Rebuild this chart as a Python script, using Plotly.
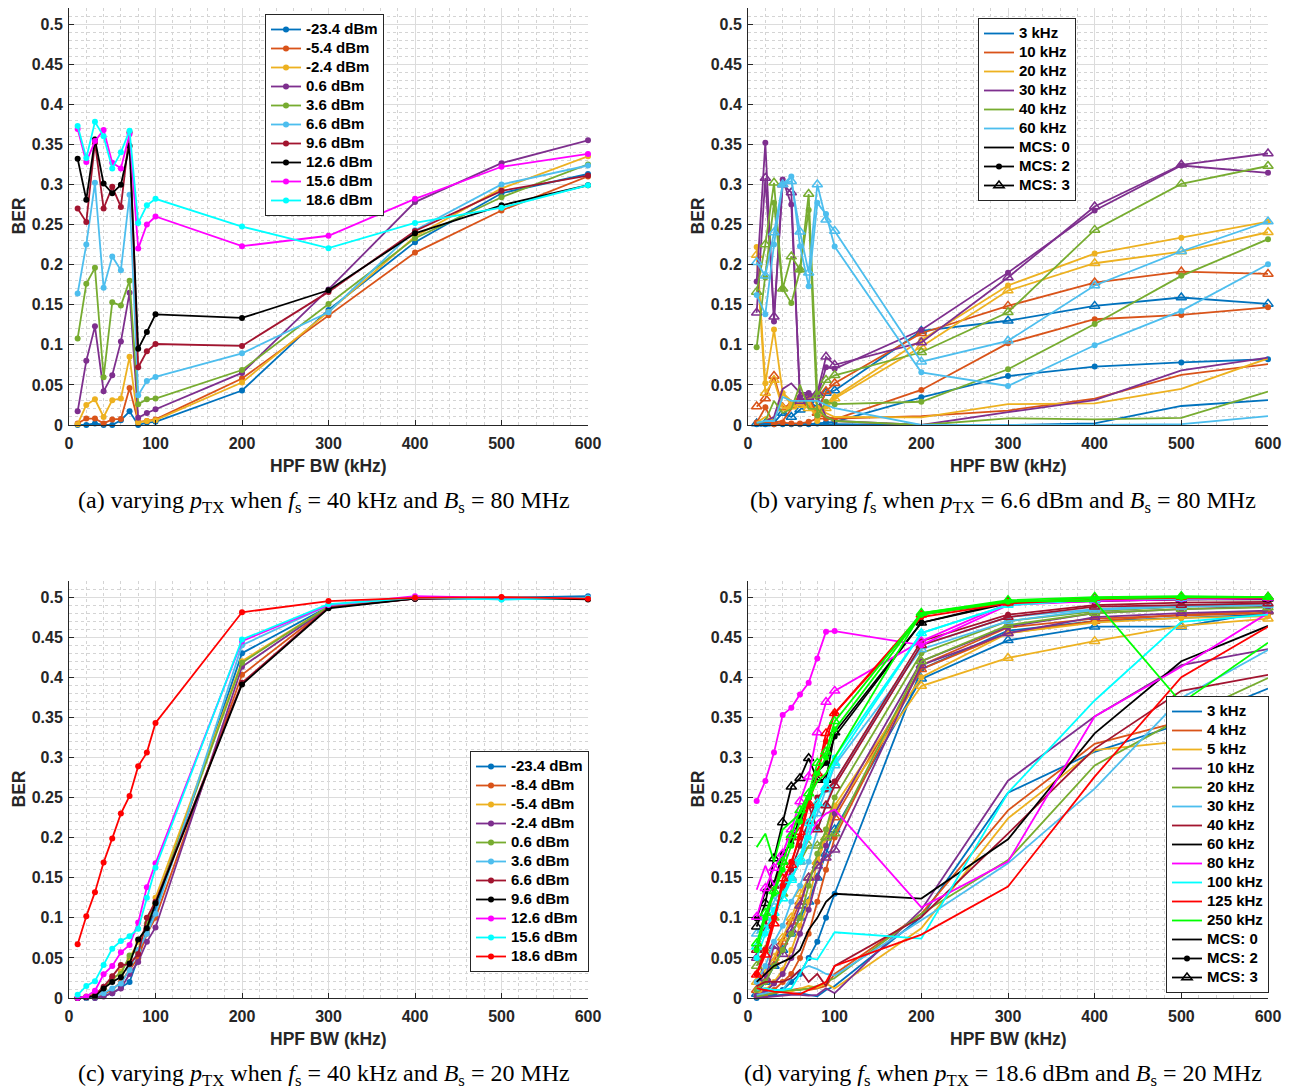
import plotly.graph_objects as go

# ---------------- data ----------------
X = [10, 20, 30, 40, 50, 60, 70, 80, 90, 100, 200, 300, 400, 500, 600]
X_TICKS = [0, 100, 200, 300, 400, 500, 600]
Y_TICKS = [0, 0.05, 0.1, 0.15, 0.2, 0.25, 0.3, 0.35, 0.4, 0.45, 0.5]
Y_TICK_TEXT = ["0", "0.05", "0.1", "0.15", "0.2", "0.25", "0.3", "0.35", "0.4", "0.45", "0.5"]

# panel (a): varying p_TX, fs=40 kHz, Bs=80 MHz
A_LABELS = ["-23.4 dBm", "-5.4 dBm", "-2.4 dBm", "0.6 dBm", "3.6 dBm", "6.6 dBm",
            "9.6 dBm", "12.6 dBm", "15.6 dBm", "18.6 dBm"]
A_M23_4 = [0.0, 0.0, 0.002, 0.0, 0.0, 0.006, 0.017, 0.0, 0.003, 0.004, 0.043, 0.1435, 0.228, 0.289, 0.313]
A_M5_4 = [0.002, 0.008, 0.008, 0.002, 0.007, 0.0075, 0.046, 0.004, 0.005, 0.007, 0.058, 0.137, 0.215, 0.2675, 0.310]
A_M2_4 = [0.001, 0.025, 0.032, 0.010, 0.031, 0.033, 0.085, 0.003, 0.005, 0.006, 0.053, 0.141, 0.235, 0.295, 0.335]
A_P0_6 = [0.017, 0.080, 0.123, 0.042, 0.062, 0.104, 0.165, 0.009, 0.015, 0.0195, 0.065, 0.169, 0.278, 0.3265, 0.355]
A_P3_6 = [0.108, 0.176, 0.196, 0.0595, 0.153, 0.149, 0.180, 0.026, 0.032, 0.033, 0.0686, 0.151, 0.233, 0.284, 0.325]
A_P6_6 = [0.164, 0.225, 0.302, 0.171, 0.210, 0.193, 0.287, 0.037, 0.055, 0.060, 0.0894, 0.1406, 0.243, 0.300, 0.3236]
A_P9_6 = [0.270, 0.253, 0.352, 0.270, 0.297, 0.272, 0.365, 0.072, 0.092, 0.101, 0.0986, 0.166, 0.242, 0.292, 0.311]
A_P12_6 = [0.332, 0.281, 0.356, 0.301, 0.289, 0.2995, 0.348, 0.095, 0.116, 0.138, 0.1335, 0.168, 0.239, 0.274, 0.299]
A_P15_6 = [0.369, 0.328, 0.354, 0.368, 0.327, 0.320, 0.363, 0.220, 0.250, 0.260, 0.223, 0.236, 0.282, 0.322, 0.338]
A_P18_6 = [0.373, 0.333, 0.378, 0.360, 0.320, 0.340, 0.367, 0.252, 0.274, 0.282, 0.2475, 0.2205, 0.252, 0.271, 0.299]
A_SERIES = [A_M23_4, A_M5_4, A_M2_4, A_P0_6, A_P3_6, A_P6_6, A_P9_6, A_P12_6, A_P15_6, A_P18_6]

# panel (b): varying fs, p_TX=6.6 dBm, Bs=80 MHz ; per frequency: MCS0, MCS2, MCS3
B_FREQS = ["3 kHz", "10 kHz", "20 kHz", "30 kHz", "40 kHz", "60 kHz"]
B_MCS0 = [
    [0.001, 0.001, 0.001, 0.001, 0.001, 0.001, 0.001, 0.001, 0.001, 0.001, 0.0, 0.0, 0.002, 0.0237, 0.031],
    [0.002, 0.004, 0.003, 0.005, 0.020, 0.040, 0.035, 0.012, 0.010, 0.008, 0.011, 0.018, 0.033, 0.0624, 0.076],
    [0.003, 0.010, 0.005, 0.040, 0.030, 0.025, 0.040, 0.025, 0.015, 0.010, 0.0096, 0.026, 0.027, 0.045, 0.083],
    [0.002, 0.005, 0.010, 0.045, 0.052, 0.040, 0.040, 0.035, 0.010, 0.005, 0.0, 0.016, 0.031, 0.068, 0.084],
    [0.002, 0.005, 0.030, 0.015, 0.020, 0.050, 0.020, 0.020, 0.010, 0.005, 0.0, 0.0083, 0.007, 0.009, 0.0416],
    [0.003, 0.005, 0.005, 0.035, 0.030, 0.030, 0.030, 0.030, 0.025, 0.021, 0.0, 0.0, 0.0, 0.001, 0.011],
]
B_MCS2 = [
    [0.001, 0.001, 0.001, 0.001, 0.001, 0.001, 0.001, 0.002, 0.003, 0.004, 0.0345, 0.061, 0.0728, 0.078, 0.082],
    [0.003, 0.022, 0.001, 0.003, 0.002, 0.002, 0.004, 0.008, 0.008, 0.007, 0.0437, 0.102, 0.1319, 0.1373, 0.1468],
    [0.222, 0.052, 0.119, 0.040, 0.025, 0.031, 0.031, 0.005, 0.023, 0.035, 0.106, 0.174, 0.2138, 0.2334, 0.2537],
    [0.179, 0.352, 0.129, 0.306, 0.275, 0.035, 0.040, 0.035, 0.072, 0.070, 0.1185, 0.190, 0.2675, 0.3236, 0.3145],
    [0.097, 0.184, 0.277, 0.170, 0.152, 0.193, 0.268, 0.012, 0.029, 0.026, 0.029, 0.0695, 0.126, 0.186, 0.2317],
    [0.162, 0.138, 0.225, 0.300, 0.310, 0.223, 0.173, 0.277, 0.263, 0.2225, 0.0657, 0.0487, 0.0994, 0.1423, 0.2005],
]
B_MCS3 = [
    [0.002, 0.002, 0.003, 0.015, 0.010, 0.019, 0.031, 0.021, 0.040, 0.043, 0.1173, 0.130, 0.1485, 0.159, 0.151],
    [0.023, 0.033, 0.061, 0.022, 0.025, 0.027, 0.025, 0.015, 0.042, 0.052, 0.1144, 0.1485, 0.1776, 0.1913, 0.1884],
    [0.212, 0.040, 0.056, 0.021, 0.023, 0.025, 0.021, 0.019, 0.021, 0.033, 0.0977, 0.1676, 0.2017, 0.2163, 0.2404],
    [0.140, 0.308, 0.135, 0.300, 0.290, 0.030, 0.035, 0.040, 0.085, 0.075, 0.103, 0.184, 0.2725, 0.3245, 0.3386],
    [0.166, 0.225, 0.302, 0.170, 0.210, 0.194, 0.288, 0.037, 0.056, 0.062, 0.0907, 0.1406, 0.2433, 0.3007, 0.323],
    [0.203, 0.186, 0.240, 0.300, 0.304, 0.241, 0.190, 0.300, 0.256, 0.242, 0.079, 0.105, 0.174, 0.2167, 0.2537],
]

# panel (c): varying p_TX, fs=40 kHz, Bs=20 MHz
C_LABELS = ["-23.4 dBm", "-8.4 dBm", "-5.4 dBm", "-2.4 dBm", "0.6 dBm", "3.6 dBm",
            "6.6 dBm", "9.6 dBm", "12.6 dBm", "15.6 dBm", "18.6 dBm"]
C_SERIES = [
    [0.0, 0.0, 0.0, 0.003, 0.006, 0.013, 0.020, 0.050, 0.085, 0.110, 0.430, 0.488, 0.498, 0.499, 0.501],
    [0.0, 0.0, 0.002, 0.005, 0.010, 0.020, 0.035, 0.050, 0.080, 0.100, 0.403, 0.487, 0.498, 0.498, 0.498],
    [0.0, 0.002, 0.005, 0.012, 0.022, 0.033, 0.050, 0.070, 0.090, 0.125, 0.420, 0.488, 0.499, 0.499, 0.498],
    [0.0, 0.0, 0.0, 0.002, 0.006, 0.012, 0.030, 0.045, 0.070, 0.088, 0.413, 0.487, 0.498, 0.498, 0.498],
    [0.0, 0.001, 0.004, 0.012, 0.025, 0.030, 0.053, 0.060, 0.093, 0.118, 0.418, 0.488, 0.499, 0.499, 0.498],
    [0.0, 0.0, 0.002, 0.006, 0.012, 0.018, 0.035, 0.060, 0.080, 0.105, 0.440, 0.490, 0.499, 0.497, 0.499],
    [0.0, 0.001, 0.004, 0.014, 0.027, 0.041, 0.042, 0.055, 0.100, 0.120, 0.393, 0.487, 0.498, 0.499, 0.498],
    [0.0, 0.001, 0.002, 0.012, 0.020, 0.026, 0.043, 0.073, 0.087, 0.118, 0.391, 0.486, 0.498, 0.499, 0.497],
    [0.0, 0.002, 0.009, 0.0295, 0.040, 0.057, 0.066, 0.094, 0.138, 0.168, 0.445, 0.490, 0.501, 0.499, 0.499],
    [0.004, 0.015, 0.021, 0.041, 0.0615, 0.071, 0.077, 0.0865, 0.125, 0.1625, 0.447, 0.491, 0.499, 0.497, 0.499],
    [0.067, 0.102, 0.132, 0.169, 0.199, 0.230, 0.252, 0.289, 0.306, 0.343, 0.481, 0.495, 0.499, 0.500, 0.498],
]

# panel (d): varying fs, p_TX=18.6 dBm, Bs=20 MHz ; per frequency: MCS0, MCS2, MCS3
D_FREQS = ["3 kHz", "4 kHz", "5 kHz", "10 kHz", "20 kHz", "30 kHz", "40 kHz", "60 kHz",
           "80 kHz", "100 kHz", "125 kHz", "250 kHz"]
D_MCS0 = [
    [0.001, 0.002, 0.003, 0.004, 0.005, 0.006, 0.004, 0.002, 0.010, 0.015, 0.101, 0.256, 0.307, 0.342, 0.386],
    [0.002, 0.004, 0.006, 0.008, 0.010, 0.012, 0.010, 0.012, 0.015, 0.030, 0.105, 0.234, 0.317, 0.345, 0.361],
    [0.003, 0.005, 0.008, 0.010, 0.008, 0.012, 0.015, 0.013, 0.018, 0.012, 0.087, 0.224, 0.309, 0.320, 0.349],
    [0.0, 0.001, 0.002, 0.003, 0.004, 0.004, 0.003, 0.004, 0.012, 0.006, 0.110, 0.271, 0.351, 0.415, 0.435],
    [0.002, 0.004, 0.006, 0.008, 0.010, 0.010, 0.012, 0.015, 0.020, 0.025, 0.105, 0.172, 0.290, 0.349, 0.399],
    [0.004, 0.006, 0.009, 0.010, 0.025, 0.035, 0.040, 0.036, 0.030, 0.028, 0.097, 0.168, 0.261, 0.374, 0.434],
    [0.015, 0.020, 0.020, 0.020, 0.025, 0.035, 0.020, 0.030, 0.015, 0.040, 0.101, 0.205, 0.311, 0.383, 0.403],
    [0.020, 0.030, 0.040, 0.045, 0.050, 0.060, 0.085, 0.100, 0.120, 0.130, 0.124, 0.198, 0.330, 0.420, 0.464],
    [0.135, 0.165, 0.140, 0.160, 0.150, 0.170, 0.200, 0.220, 0.230, 0.235, 0.113, 0.170, 0.351, 0.413, 0.480],
    [0.010, 0.012, 0.010, 0.010, 0.012, 0.030, 0.050, 0.048, 0.065, 0.082, 0.074, 0.256, 0.371, 0.469, 0.478],
    [0.012, 0.010, 0.008, 0.007, 0.006, 0.005, 0.010, 0.015, 0.020, 0.040, 0.079, 0.139, 0.276, 0.400, 0.463],
    [0.188, 0.205, 0.170, 0.210, 0.220, 0.230, 0.250, 0.270, 0.280, 0.300, 0.480, 0.495, 0.495, 0.368, 0.443],
]
D_MCS2 = [
    [0.0, 0.003, 0.005, 0.010, 0.020, 0.030, 0.050, 0.070, 0.100, 0.130, 0.410, 0.458, 0.470, 0.474, 0.478],
    [0.002, 0.005, 0.010, 0.020, 0.030, 0.050, 0.080, 0.120, 0.160, 0.200, 0.415, 0.462, 0.473, 0.477, 0.480],
    [0.005, 0.010, 0.020, 0.035, 0.060, 0.090, 0.120, 0.170, 0.210, 0.240, 0.400, 0.455, 0.468, 0.474, 0.476],
    [0.003, 0.008, 0.018, 0.030, 0.050, 0.080, 0.110, 0.150, 0.190, 0.230, 0.420, 0.463, 0.480, 0.485, 0.488],
    [0.010, 0.020, 0.040, 0.060, 0.080, 0.100, 0.140, 0.180, 0.210, 0.250, 0.430, 0.470, 0.482, 0.488, 0.490],
    [0.020, 0.040, 0.070, 0.090, 0.120, 0.140, 0.170, 0.210, 0.240, 0.270, 0.440, 0.475, 0.485, 0.490, 0.492],
    [0.030, 0.060, 0.100, 0.130, 0.160, 0.190, 0.220, 0.250, 0.260, 0.270, 0.445, 0.478, 0.490, 0.493, 0.494],
    [0.099, 0.133, 0.143, 0.180, 0.193, 0.226, 0.249, 0.282, 0.293, 0.326, 0.468, 0.492, 0.495, 0.497, 0.497],
    [0.2456, 0.2706, 0.306, 0.353, 0.362, 0.3786, 0.393, 0.4235, 0.4568, 0.4576, 0.440, 0.490, 0.495, 0.497, 0.498],
    [0.050, 0.080, 0.110, 0.130, 0.150, 0.170, 0.200, 0.240, 0.270, 0.300, 0.455, 0.490, 0.497, 0.498, 0.499],
    [0.030, 0.060, 0.100, 0.140, 0.170, 0.200, 0.240, 0.280, 0.320, 0.355, 0.475, 0.492, 0.497, 0.499, 0.499],
    [0.060, 0.100, 0.130, 0.160, 0.190, 0.220, 0.250, 0.280, 0.300, 0.335, 0.478, 0.494, 0.498, 0.500, 0.500],
]
D_MCS3 = [
    [0.005, 0.020, 0.040, 0.060, 0.080, 0.100, 0.120, 0.150, 0.180, 0.210, 0.398, 0.446, 0.463, 0.463, 0.482],
    [0.010, 0.025, 0.045, 0.070, 0.095, 0.120, 0.150, 0.170, 0.200, 0.225, 0.410, 0.455, 0.470, 0.478, 0.482],
    [0.020, 0.035, 0.050, 0.075, 0.100, 0.130, 0.150, 0.170, 0.200, 0.235, 0.389, 0.424, 0.445, 0.464, 0.473],
    [0.050, 0.025, 0.065, 0.055, 0.085, 0.115, 0.150, 0.165, 0.175, 0.185, 0.415, 0.455, 0.475, 0.480, 0.483],
    [0.040, 0.060, 0.100, 0.130, 0.150, 0.170, 0.190, 0.190, 0.200, 0.205, 0.420, 0.465, 0.480, 0.485, 0.487],
    [0.080, 0.100, 0.120, 0.140, 0.150, 0.170, 0.210, 0.230, 0.260, 0.290, 0.435, 0.470, 0.484, 0.488, 0.490],
    [0.060, 0.090, 0.140, 0.170, 0.200, 0.220, 0.240, 0.210, 0.240, 0.265, 0.440, 0.475, 0.488, 0.490, 0.492],
    [0.089, 0.118, 0.174, 0.219, 0.2635, 0.274, 0.299, 0.272, 0.272, 0.331, 0.468, 0.494, 0.496, 0.497, 0.498],
    [0.101, 0.137, 0.162, 0.180, 0.210, 0.245, 0.276, 0.331, 0.369, 0.383, 0.445, 0.492, 0.496, 0.498, 0.499],
    [0.064, 0.085, 0.106, 0.124, 0.147, 0.174, 0.218, 0.243, 0.263, 0.293, 0.455, 0.490, 0.497, 0.499, 0.500],
    [0.029, 0.054, 0.093, 0.149, 0.166, 0.207, 0.243, 0.280, 0.330, 0.355, 0.478, 0.493, 0.499, 0.500, 0.500],
    [0.068, 0.106, 0.133, 0.170, 0.203, 0.234, 0.255, 0.293, 0.307, 0.345, 0.480, 0.496, 0.500, 0.501, 0.500],
]
MCS_LABELS = ["MCS: 0", "MCS: 2", "MCS: 3"]

CAPTIONS = [
    "(a) varying <i>p</i><sub>TX</sub> when <i>f</i><sub>s</sub> = 40 kHz and <i>B</i><sub>s</sub> = 80 MHz",
    "(b) varying <i>f</i><sub>s</sub> when <i>p</i><sub>TX</sub> = 6.6 dBm and <i>B</i><sub>s</sub> = 80 MHz",
    "(c) varying <i>p</i><sub>TX</sub> when <i>f</i><sub>s</sub> = 40 kHz and <i>B</i><sub>s</sub> = 20 MHz",
    "(d) varying <i>f</i><sub>s</sub> when <i>p</i><sub>TX</sub> = 18.6 dBm and <i>B</i><sub>s</sub> = 20 MHz",
]

# ---------------- styling ----------------
BLUE, ORANGE, YELLOW, PURPLE = "#0072BD", "#D95319", "#EDB120", "#7E2F8E"
GREEN, LBLUE, DRED = "#77AC30", "#4DBEEE", "#A2142F"
BLACK, MAG, CYAN, RED, LIME = "#000000", "#FF00FF", "#00FFFF", "#FF0000", "#00FF00"
A_COLORS = [BLUE, ORANGE, YELLOW, PURPLE, GREEN, LBLUE, DRED, BLACK, MAG, CYAN]
B_COLORS = [BLUE, ORANGE, YELLOW, PURPLE, GREEN, LBLUE]
C_COLORS = [BLUE, ORANGE, YELLOW, PURPLE, GREEN, LBLUE, DRED, BLACK, MAG, CYAN, RED]
D_COLORS = [BLUE, ORANGE, YELLOW, PURPLE, GREEN, LBLUE, DRED, BLACK, MAG, CYAN, RED, LIME]

W, H = 1291, 1089
OFF = 8  # page body margin of the html page
AXC = "#262626"
LW = 1.8
FONT = "Liberation Sans"


def px(v):
    return (v - OFF) / W


def py(v):
    return 1 - (v - OFF) / H


# pixel boxes of the four axes in the window: (left, right, top, bottom)
BOXES = [(69, 588, 8, 425), (748, 1268, 8, 425), (69, 588, 581, 998), (748, 1268, 581, 998)]

fig = go.Figure()


def add_line(k, x, y, color, name=None, marker=None, legend=None, show=False):
    xa = "x" if k == 0 else f"x{k + 1}"
    ya = "y" if k == 0 else f"y{k + 1}"
    mode = "lines" if marker is None else "lines+markers"
    kw = {}
    if marker == "dot":
        kw["marker"] = dict(symbol="circle", size=6, color=color)
    elif marker == "tri":
        kw["marker"] = dict(symbol="triangle-up-open", size=9, color=color,
                            line=dict(width=1.5, color=color))
    label = None if name is None else f"<span style='font-size:15px'>{name}</span>"
    fig.add_trace(go.Scatter(x=x, y=y, mode=mode, name=label, line=dict(color=color, width=LW),
                             xaxis=xa, yaxis=ya, showlegend=show, legend=legend,
                             cliponaxis=False, hoverinfo="skip", **kw))


# panel (a)
for lab, ys, c in zip(A_LABELS, A_SERIES, A_COLORS):
    add_line(0, X, ys, c, name=lab, marker="dot", legend="legend", show=True)

# panel (b)
for i, c in enumerate(B_COLORS):
    add_line(1, X, B_MCS0[i], c, legend="legend2")
    add_line(1, X, B_MCS2[i], c, marker="dot", legend="legend2")
    add_line(1, X, B_MCS3[i], c, marker="tri", legend="legend2")
for lab, c in zip(B_FREQS, B_COLORS):
    add_line(1, [None], [None], c, name=lab, legend="legend2", show=True)
for lab, m in zip(MCS_LABELS, [None, "dot", "tri"]):
    add_line(1, [None], [None], BLACK, name=lab, marker=m, legend="legend2", show=True)

# panel (c)
for lab, ys, c in zip(C_LABELS, C_SERIES, C_COLORS):
    add_line(2, X, ys, c, name=lab, marker="dot", legend="legend3", show=True)

# panel (d)
for i, c in enumerate(D_COLORS):
    add_line(3, X, D_MCS0[i], c, legend="legend4")
    add_line(3, X, D_MCS2[i], c, marker="dot", legend="legend4")
    add_line(3, X, D_MCS3[i], c, marker="tri", legend="legend4")
for lab, c in zip(D_FREQS, D_COLORS):
    add_line(3, [None], [None], c, name=lab, legend="legend4", show=True)
for lab, m in zip(MCS_LABELS, [None, "dot", "tri"]):
    add_line(3, [None], [None], BLACK, name=lab, marker=m, legend="legend4", show=True)

tickfont = dict(family=FONT, size=16, color=AXC, weight="bold")
layout = dict(width=W, height=H, margin=dict(l=0, r=0, t=0, b=0, autoexpand=False),
              plot_bgcolor="white", paper_bgcolor="white", showlegend=True)

for k, (l, r, t, b) in enumerate(BOXES):
    sx = "" if k == 0 else str(k + 1)
    layout["xaxis" + sx] = dict(
        domain=[px(l), px(r)], anchor="y" + sx, range=[0, 600], automargin=False,
        tickmode="array", tickvals=X_TICKS, ticktext=[str(v) for v in X_TICKS],
        ticks="inside", ticklen=5, tickcolor=AXC, tickfont=tickfont, ticklabelstandoff=4,
        showline=True, linecolor=AXC, linewidth=1, mirror=False,
        showgrid=True, gridcolor="#dcdcdc", gridwidth=1, zeroline=False,
        minor=dict(tick0=0, dtick=20, showgrid=True, gridcolor="#d4d4d4", griddash="dot", gridwidth=1),
        fixedrange=True)
    layout["yaxis" + sx] = dict(
        domain=[py(b), py(t)], anchor="x" + sx, range=[0, 0.52], automargin=False,
        tickmode="array", tickvals=Y_TICKS, ticktext=Y_TICK_TEXT,
        ticks="inside", ticklen=5, tickcolor=AXC, tickfont=tickfont, ticklabelstandoff=2,
        showline=True, linecolor=AXC, linewidth=1, mirror=False,
        showgrid=True, gridcolor="#dcdcdc", gridwidth=1, zeroline=False,
        minor=dict(tick0=0, dtick=0.01, showgrid=True, gridcolor="#d4d4d4", griddash="dot", gridwidth=1),
        fixedrange=True)

legfont = dict(family=FONT, size=12, color="#000000", weight="bold")
# (left px, y px, y anchor)
LEG_POS = [(265, 14, "top"), (978, 18, "top"), (470, 972, "bottom"), (1166, 993, "bottom")]
for k, (lx, ly, ya) in enumerate(LEG_POS):
    key = "legend" if k == 0 else f"legend{k + 1}"
    layout[key] = dict(x=px(lx), y=py(ly), xanchor="left", yanchor=ya,
                       xref="paper", yref="paper",
                       bgcolor="white", bordercolor=AXC, borderwidth=1,
                       font=legfont, tracegroupgap=0, itemwidth=30,
                       traceorder="normal")

annotations = []
titlefont = dict(family=FONT, size=17.5, color=AXC, weight="bold")
capfont = dict(family="Liberation Serif", size=24, color="#000000")
for k, (l, r, t, b) in enumerate(BOXES):
    cx = (l + r) / 2
    annotations.append(dict(text="HPF BW (kHz)", x=px(cx), y=py(b + 41), xref="paper", yref="paper",
                            showarrow=False, font=titlefont, xanchor="center", yanchor="middle"))
    annotations.append(dict(text="BER", x=px(l - 51), y=py((t + b) / 2), xref="paper", yref="paper",
                            showarrow=False, font=titlefont, textangle=-90, xanchor="center", yanchor="middle"))
    annotations.append(dict(text=CAPTIONS[k], x=px(cx - 5), y=py(b + 77), xref="paper", yref="paper",
                            showarrow=False, font=capfont, xanchor="center", yanchor="middle"))
layout["annotations"] = annotations

fig.update_layout(**layout)
fig.write_html("out.html")
